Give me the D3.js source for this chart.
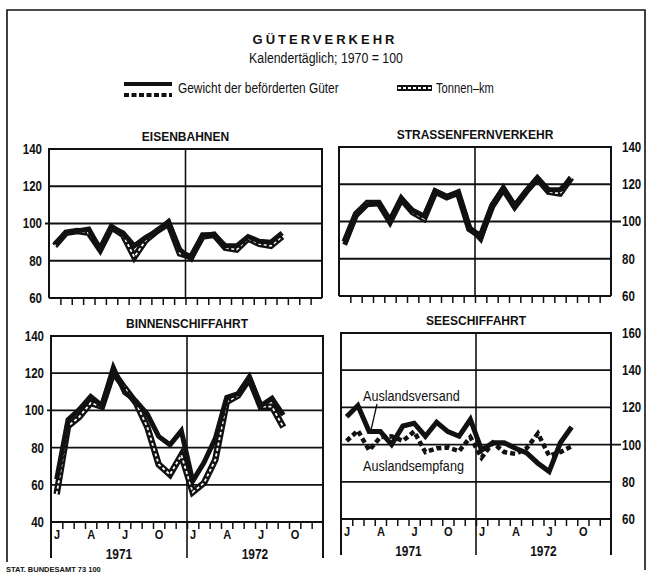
<!DOCTYPE html>
<html><head><meta charset="utf-8">
<script src="https://cdn.jsdelivr.net/npm/d3@7"></script>
<style>
body{margin:0;background:#fff}
svg{display:block}
text{font-family:"Liberation Sans","DejaVu Sans",sans-serif;fill:#111}
</style></head>
<body><svg id="c" width="648" height="576"></svg>
<script>
// ---- data (monthly, Jan 1971 = index 0) ----
const monthTickLabels = ["J","A","J","O","J","A","J","O"];
const monthTickPos = [0,3,6,9,12,15,18,21];
const yearLabels = ["1971","1972"];
const yTicksA = [60,80,100,120,140];
const yTicksB = [40,60,80,100,120,140];
const yTicksC = [60,80,100,120,140,160];

const eisenGewicht = [89,95,96,97,86,98,95,88,92.5,96,101,86,81,94,94,88,88,93,90.5,90,95];
const eisenTkm     = [88,95,96,95,86,98,94,82,91,96,100,84,82,93,94,87,86,92,89,88,93];

const strasseGewicht = [87.5,103,109,109.5,100,112,106,103,116.5,113.5,115.5,97,90.5,109,118,108.5,116,123.5,117,117,123];
const strasseTkm     = [89,104,110,110,100,112,105,101.5,116,113,115.5,96,92,108,117.5,108,116,123,116,115,123.5];

const binnenGewicht = [63,95,100.5,107.5,102.5,123,109.5,105,98,86,81.5,89,62,72,85,107,109,118,102.5,106.5,97.5];
const binnenTkm     = [55,91.5,96.5,104,102,120.5,112,104,91,71,65.5,76,56,61,73.5,104.5,108,117,102,102,91];

const seeVersand   = [115,121,107,107,100,110,111.5,104.5,112,107,104.5,113.5,97,101,101,98,95.5,90,85.5,101,109.5];
const seeEmpfang   = [102,107.5,97,104,104.5,102,107,96,98,98.5,96.5,104,93,101,96,95,98,106,94,96,99];

// ---- helpers ----
function condense(sel, f) {
  sel.each(function(){
    const L = this.getComputedTextLength();
    d3.select(this).attr("textLength", (L*f).toFixed(1)).attr("lengthAdjust","spacingAndGlyphs");
  });
  return sel;
}

// ---- layout ----
const svg = d3.select("#c");

// outer frame
svg.append("path").attr("d","M7,562 V10 H645 V570")
  .attr("fill","none").attr("stroke","#111").attr("stroke-width",1.6);

svg.append("text").attr("x",325).attr("y",44).attr("text-anchor","middle")
  .style("font-weight","bold").style("font-size","13px").style("letter-spacing","3px")
  .text("GÜTERVERKEHR");
condense(svg.append("text").attr("x",326).attr("y",63).attr("text-anchor","middle")
  .style("font-size","14px").text("Kalendertäglich; 1970 = 100"), 0.88);

// legend
const leg = svg.append("g");
leg.append("line").attr("x1",124).attr("x2",172).attr("y1",84).attr("y2",84)
  .attr("stroke","#111").attr("stroke-width",4);
leg.append("line").attr("x1",124).attr("x2",172).attr("y1",95).attr("y2",95)
  .attr("stroke","#111").attr("stroke-width",4).attr("stroke-dasharray","5,2.5");
condense(leg.append("text").attr("x",178).attr("y",93).style("font-size","14px").text("Gewicht der beförderten Güter"), 0.85);
leg.append("line").attr("x1",397).attr("x2",432).attr("y1",88).attr("y2",88)
  .attr("stroke","#111").attr("stroke-width",6);
leg.append("line").attr("x1",398).attr("x2",431).attr("y1",88).attr("y2",88)
  .attr("stroke","#fff").attr("stroke-width",2).attr("stroke-dasharray","3,2");
condense(leg.append("text").attr("x",436).attr("y",93).style("font-size","14px").text("Tonnen–km"), 0.8);

const panels = [
  {title:"EISENBAHNEN", x0:49, x1:322, y0:149, y1:298, dom:[60,140], ticks:yTicksA, side:"left",
   series:[{v:eisenGewicht,t:"solid"},{v:eisenTkm,t:"tkm"}], bottom:false},
  {title:"STRASSENFERNVERKEHR", x0:339, x1:611, y0:147, y1:296, dom:[60,140], ticks:yTicksA, side:"right",
   series:[{v:strasseGewicht,t:"solid"},{v:strasseTkm,t:"tkm"}], bottom:false},
  {title:"BINNENSCHIFFAHRT", x0:51, x1:323, y0:336, y1:522, dom:[40,140], ticks:yTicksB, side:"left",
   series:[{v:binnenGewicht,t:"solid"},{v:binnenTkm,t:"tkm"}], bottom:true},
  {title:"SEESCHIFFAHRT", x0:341, x1:611, y0:333, y1:519, dom:[60,160], ticks:yTicksC, side:"right",
   series:[{v:seeEmpfang,t:"dash"},{v:seeVersand,t:"solid"}], bottom:true}
];

panels.forEach(p => {
  const g = svg.append("g");
  const x = d3.scaleLinear().domain([0,24]).range([p.x0,p.x1]);
  const y = d3.scaleLinear().domain(p.dom).range([p.y1,p.y0]);

  // title
  g.append("text").attr("x",(p.x0+p.x1)/2).attr("y",p.y0-8).attr("text-anchor","middle")
    .style("font-weight","bold").style("font-size","12px").text(p.title);

  // gridlines
  const inner = p.ticks.filter(t => t>p.dom[0] && t<p.dom[1]);
  g.selectAll("line.grid").data(inner).join("line")
    .attr("x1", d => d===100 ? (p.side==="left" ? p.x0-4 : p.x0) : p.x0)
    .attr("x2", d => d===100 ? (p.side==="right" ? p.x1+10 : p.x1) : p.x1)
    .attr("y1", d => y(d)).attr("y2", d => y(d))
    .attr("stroke","#111").attr("stroke-width",1.8);

  // y labels
  const yAxis = (p.side==="left" ? d3.axisLeft(y) : d3.axisRight(y))
    .tickValues(p.ticks).tickSize(0).tickPadding(p.side==="left"?7:11);
  const ya = g.append("g").attr("transform",`translate(${p.side==="left"?p.x0:p.x1},0)`).call(yAxis);
  ya.select(".domain").remove();
  ya.selectAll("text").attr("fill","#111").style("font-size","14px").style("font-weight","bold")
    .style("font-family","'Liberation Sans','DejaVu Sans',sans-serif");
  condense(ya.selectAll("text"), 0.82);

  // month ticks (downward from bottom line)
  const xt = g.append("g").attr("transform",`translate(0,${p.y1})`)
    .call(d3.axisBottom(x).tickValues(d3.range(1,24)).tickSize(7).tickFormat(""));
  xt.select(".domain").remove();
  xt.selectAll("line").attr("stroke","#111").attr("stroke-width",1.5);

  // midline and frame
  const ext = p.bottom ? 36 : 0;
  g.append("line").attr("x1",x(12)).attr("x2",x(12)).attr("y1",p.y0).attr("y2",p.y1+ext)
    .attr("stroke","#111").attr("stroke-width",1.6);
  g.append("path").attr("d",`M${p.x0},${p.y1+ext} V${p.y0} H${p.x1} V${p.y1+ext}`)
    .attr("fill","none").attr("stroke","#111").attr("stroke-width",2);
  g.append("line").attr("x1",p.x0).attr("x2",p.x1).attr("y1",p.y1).attr("y2",p.y1)
    .attr("stroke","#111").attr("stroke-width",2);

  if (p.bottom) {
    const xl = g.append("g").attr("transform",`translate(0,${p.y1})`)
      .call(d3.axisBottom(x).tickValues(monthTickPos.map(m=>m+0.5)).tickSize(0).tickPadding(8)
        .tickFormat((d,i)=>monthTickLabels[i]));
    xl.select(".domain").remove();
    xl.selectAll("text").attr("fill","#111").style("font-size","13px").style("font-weight","bold")
      .style("font-family","'Liberation Sans','DejaVu Sans',sans-serif");
    condense(xl.selectAll("text"), 0.85);
    condense(g.selectAll("text.yr").data(yearLabels).join("text")
      .attr("x",(d,i)=>x(i*12+6)).attr("y",p.y1+37).attr("text-anchor","middle")
      .style("font-size","14px").style("font-weight","bold").text(d=>d), 0.85);
  }

  // series: tkm first (outlined), then weight on top
  const line = d3.line().x((d,i)=>x(i+0.5)).y(d=>y(d)).curve(d3.curveLinear);
  const order = {tkm:0, dash:1, solid:2};
  const sorted = p.series.slice().sort((a,b)=> order[a.t]-order[b.t]);
  sorted.forEach(s => {
    if (s.t==="solid") {
      g.append("path").attr("d",line(s.v)).attr("fill","none").attr("stroke","#111")
        .attr("stroke-width",5).attr("stroke-linejoin","miter").attr("stroke-miterlimit",3);
    } else if (s.t==="dash") {
      g.append("path").attr("d",line(s.v)).attr("fill","none").attr("stroke","#111")
        .attr("stroke-width",4.5).attr("stroke-dasharray","5,3");
    } else {
      g.append("path").attr("d",line(s.v)).attr("fill","none").attr("stroke","#111")
        .attr("stroke-width",6.5).attr("stroke-linejoin","miter").attr("stroke-miterlimit",3);
      g.append("path").attr("d",line(s.v)).attr("fill","none").attr("stroke","#fff")
        .attr("stroke-width",1.8).attr("stroke-dasharray","3,2.5");
    }
  });

  if (p.title==="SEESCHIFFAHRT") {
    condense(g.append("text").attr("x",363).attr("y",401).style("font-size","14px").text("Auslandsversand"), 0.9);
    g.append("line").attr("x1",377).attr("y1",404).attr("x2",371).attr("y2",430)
      .attr("stroke","#111").attr("stroke-width",1.3);
    condense(g.append("text").attr("x",363).attr("y",471).style("font-size","14px").text("Auslandsempfang"), 0.9);
  }
});

svg.append("text").attr("x",6).attr("y",572)
  .style("font-size","7.5px").style("font-weight","bold").text("STAT. BUNDESAMT 73 100");
</script>
</body></html>
